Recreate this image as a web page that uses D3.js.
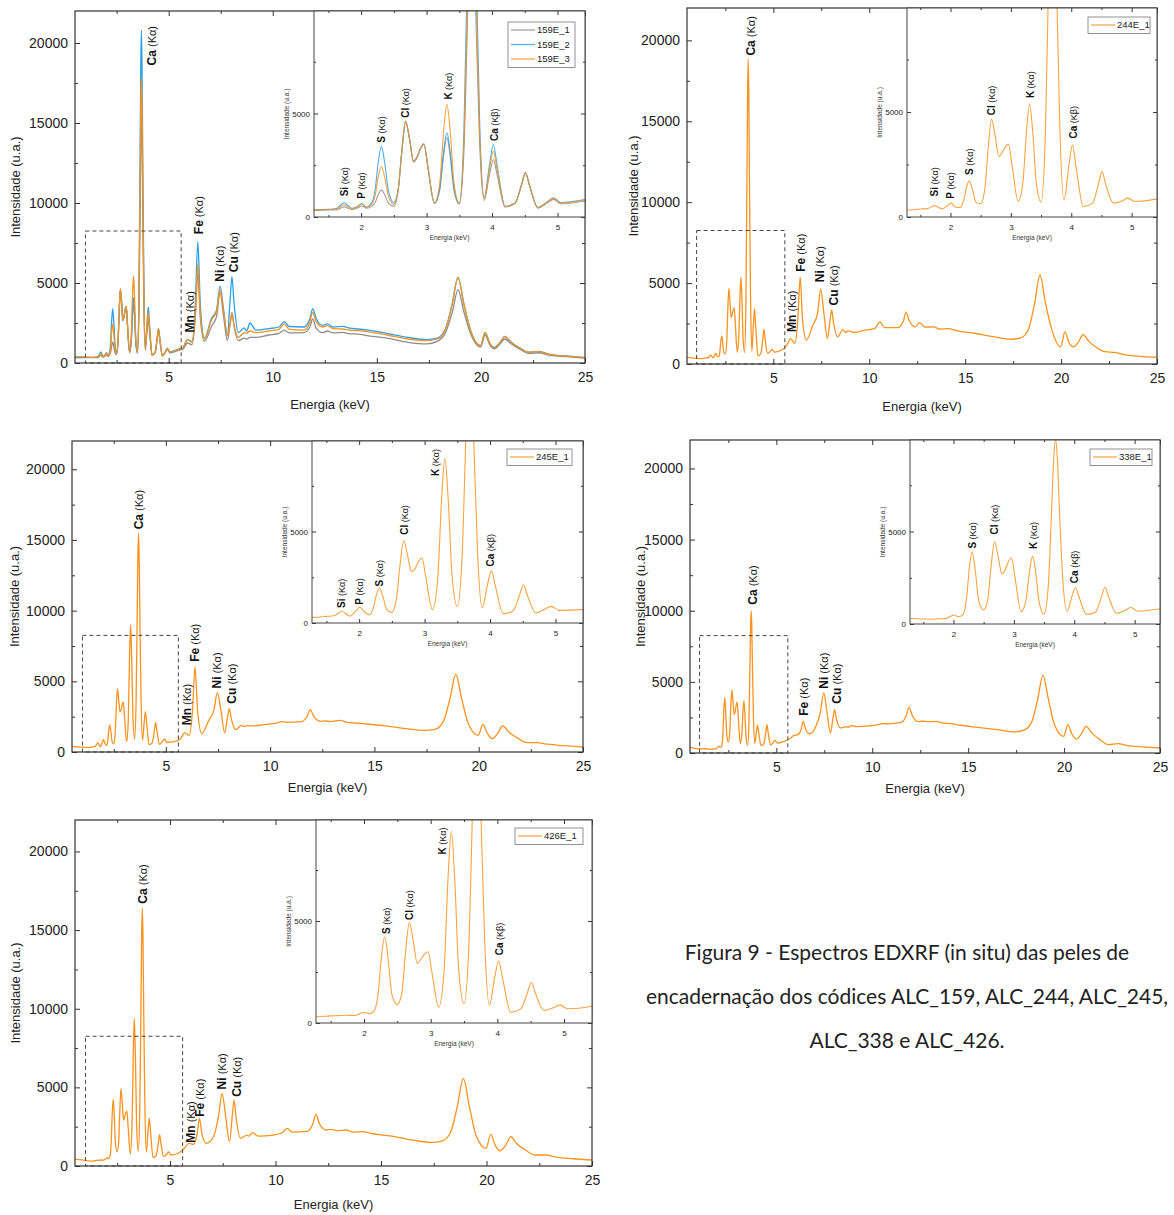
<!DOCTYPE html>
<html>
<head>
<meta charset="utf-8">
<script src="https://cdn.jsdelivr.net/npm/d3@7"></script>
<style>
    body { margin: 0; background: #fff; }
    svg text { font-family: "Liberation Sans", Arial, sans-serif; }
</style>
</head>
<body>
<svg id="fig" width="1174" height="1215"></svg>
<script>
// Energy grid (keV), shared by every spectrum
const energy = [
    0.5, 0.9, 1.3, 1.5, 1.62, 1.74, 1.86, 1.94, 2.01, 2.08,
    2.16, 2.22, 2.26, 2.31, 2.36, 2.42, 2.5, 2.57, 2.62, 2.68,
    2.74, 2.8, 2.86, 2.91, 2.96, 3.02, 3.12, 3.2, 3.26, 3.31,
    3.36, 3.42, 3.5, 3.57, 3.62, 3.66, 3.69, 3.72, 3.76, 3.81,
    3.88, 3.96, 4.02, 4.08, 4.2, 4.35, 4.45, 4.51, 4.57, 4.7,
    4.85, 4.94, 5.05, 5.4, 5.7, 5.9, 6.12, 6.28, 6.4, 6.52,
    6.72, 7.06, 7.3, 7.47, 7.64, 7.82, 7.96, 8.04, 8.13, 8.35,
    8.63, 8.75, 8.9, 9.2, 9.8, 10.3, 10.55, 10.8, 11.5, 11.78,
    11.92, 12.08, 12.4, 12.62, 12.9, 13.35, 13.7, 14.1, 14.6, 15.5,
    16.5, 17.4, 17.9, 18.3, 18.62, 18.9, 19.18, 19.5, 19.98, 20.2,
    20.42, 20.65, 20.9, 21.15, 21.45, 21.85, 22.3, 22.8, 23.3, 24.1,
    25
];

// Intensities (u.a.)
const s159_1 = [
    320, 330, 330, 335, 350, 480, 360, 430, 530, 420,
    500, 730, 1070, 1300, 1070, 660, 520, 1380, 3100, 4600,
    3750, 2650, 2900, 3300, 3500, 2400, 650, 1290, 2980, 3840,
    2950, 1260, 620, 3150, 8800, 13860, 15500, 13860, 8800, 3600,
    800, 2020, 2770, 1980, 480, 645, 1540, 2130, 1540, 430,
    700, 850, 640, 760, 880, 1250, 1150, 2830, 5600, 2830,
    1350, 2300, 2900, 4400, 2900, 1400, 2510, 3170, 2390, 1400,
    1550, 1500, 1600, 1600, 1750, 1850, 2050, 1880, 1900, 2250,
    2750, 2200, 1900, 2000, 1880, 1920, 1820, 1810, 1700, 1550,
    1290, 1190, 1350, 1900, 3150, 4580, 3200, 1850, 1000, 1750,
    1150, 880, 1150, 1500, 1200, 880, 600, 640, 480, 400,
    300
];
const s159_2 = [
    380, 360, 350, 370, 410, 690, 420, 500, 650, 480,
    670, 1460, 2620, 3400, 2620, 1230, 700, 1420, 3120, 4600,
    3750, 2700, 2950, 3350, 3540, 2420, 680, 1360, 3160, 4080,
    3160, 1360, 680, 4100, 11750, 18580, 20800, 18580, 11750, 4700,
    950, 2510, 3500, 2450, 520, 680, 1560, 2150, 1560, 470,
    750, 930, 700, 830, 1000, 1460, 1350, 3630, 7600, 3630,
    1550, 2800, 3300, 4800, 3300, 1750, 4140, 5400, 3900, 1900,
    2200, 2000, 2500, 2050, 2150, 2250, 2580, 2280, 2250, 2750,
    3400, 2800, 2350, 2440, 2250, 2290, 2180, 2125, 2050, 1850,
    1600, 1460, 1550, 2150, 3700, 5350, 3700, 2050, 1080, 1900,
    1250, 960, 1250, 1650, 1300, 950, 680, 720, 540, 440,
    340
];
const s159_3 = [
    420, 380, 350, 360, 390, 580, 400, 490, 630, 470,
    600, 1130, 1910, 2440, 1910, 970, 620, 1420, 3150, 4650,
    3780, 2700, 2950, 3350, 3540, 2420, 680, 1630, 4150, 5440,
    4150, 1630, 680, 3590, 10100, 15920, 17800, 15920, 10100, 4100,
    900, 2300, 3170, 2240, 500, 660, 1540, 2130, 1540, 450,
    730, 900, 680, 800, 980, 1460, 1300, 3080, 6190, 3080,
    1500, 2700, 3200, 4600, 3200, 1700, 2530, 3060, 2450, 1600,
    1900, 1850, 2000, 1900, 2000, 2100, 2440, 2100, 2050, 2550,
    3170, 2600, 2250, 2330, 2150, 2125, 2050, 2020, 1950, 1750,
    1500, 1400, 1500, 2100, 3650, 5350, 3700, 2050, 1080, 1920,
    1250, 980, 1250, 1670, 1300, 950, 670, 710, 530, 430,
    350
];
const s244_1 = [
    410, 360, 330, 380, 400, 540, 390, 520, 660, 480,
    450, 815, 1355, 1720, 1355, 710, 630, 1360, 3120, 4650,
    3850, 2870, 3100, 3350, 3470, 2450, 740, 1670, 4130, 5380,
    4130, 1670, 710, 3790, 10690, 16850, 18850, 16850, 10690, 4340,
    800, 2420, 3420, 2360, 500, 650, 1560, 2160, 1560, 660,
    780, 900, 740, 850, 1150, 1570, 1270, 2790, 5360, 2790,
    1470, 2390, 3100, 4640, 3100, 1570, 2740, 3350, 2620, 1680,
    2130, 1950, 2050, 1950, 2090, 2200, 2600, 2250, 2250, 2650,
    3210, 2700, 2290, 2560, 2280, 2290, 2150, 2190, 2050, 1900,
    1680, 1530, 1620, 2150, 3750, 5500, 3800, 2190, 1060, 1980,
    1300, 1060, 1350, 1820, 1400, 1020, 760, 720, 580, 470,
    410
];
const s245_1 = [
    400, 340, 310, 360, 400, 640, 370, 620, 870, 600,
    450, 870, 1490, 1910, 1490, 750, 580, 1320, 3010, 4490,
    3700, 2820, 3000, 3380, 3550, 2480, 730, 2380, 6770, 9000,
    6810, 2560, 910, 3380, 8910, 13860, 15470, 13860, 8910, 3820,
    830, 2080, 2850, 2040, 510, 660, 1520, 2090, 1520, 545,
    780, 910, 690, 730, 930, 1370, 1180, 2970, 6020, 2970,
    1300, 2240, 2950, 4200, 2950, 1350, 2500, 3070, 2400, 1580,
    1890, 1800, 1850, 1850, 1950, 2050, 2150, 2100, 2150, 2550,
    3000, 2550, 2170, 2200, 2150, 2240, 2100, 2050, 1980, 1850,
    1650, 1530, 1600, 2150, 3750, 5500, 3800, 2000, 1180, 1960,
    1300, 940, 1300, 1840, 1400, 1000, 660, 660, 550, 450,
    350
];
const s338_1 = [
    420, 290, 300, 270, 260, 280, 290, 400, 490, 390,
    525, 1490, 2930, 3900, 2930, 1210, 760, 1390, 3020, 4440,
    3650, 2720, 2950, 3380, 3570, 2480, 670, 1270, 2850, 3660,
    2840, 1160, 540, 2050, 5740, 8960, 10000, 8960, 5740, 2430,
    680, 1480, 1960, 1450, 525, 640, 1465, 1990, 1465, 580,
    760, 890, 690, 815, 1000, 1220, 1290, 1600, 2220, 1700,
    1350, 1870, 2900, 4220, 2900, 1400, 2520, 3040, 2400, 1760,
    1850, 1800, 1920, 1850, 1900, 2000, 2060, 2050, 2150, 2650,
    3230, 2650, 2200, 2250, 2200, 2220, 2100, 2060, 1950, 1800,
    1640, 1480, 1600, 2150, 3750, 5480, 3800, 1990, 1170, 1990,
    1300, 980, 1350, 1870, 1400, 960, 590, 660, 520, 430,
    350
];
const s426_1 = [
    420, 380, 310, 350, 360, 380, 370, 460, 530, 450,
    640, 1670, 3200, 4230, 3200, 1365, 900, 1530, 3350, 4920,
    4000, 2910, 3160, 3380, 3490, 2460, 770, 2500, 7070, 9400,
    7110, 2630, 940, 3570, 9440, 14690, 16400, 14690, 9440, 4030,
    880, 2220, 3040, 2180, 530, 680, 1470, 2000, 1470, 610,
    760, 890, 700, 810, 1150, 1440, 1380, 1990, 3030, 1990,
    1440, 1860, 3150, 4610, 3150, 1550, 3280, 4190, 3100, 1760,
    1950, 1900, 2120, 1900, 1950, 2100, 2390, 2150, 2200, 2700,
    3280, 2700, 2290, 2330, 2250, 2290, 2150, 2180, 2050, 1900,
    1650, 1500, 1600, 2150, 3800, 5570, 3850, 1970, 1120, 2010,
    1300, 970, 1300, 1860, 1400, 1020, 700, 700, 560, 460,
    380
];

// Peak annotations: [element, line, keV, intensity at foot of text]
const labels159Main = [["Ca", "Kα", 4.19, 18600], ["Mn", "Kα", 5.99, 1900], ["Fe", "Kα", 6.43, 8050], ["Ni", "Kα", 7.44, 5080], ["Cu", "Kα", 8.11, 5670]];
const labels159Inset = [["Si", "Kα", 1.74, 1000], ["P", "Kα", 2.0, 880], ["S", "Kα", 2.31, 3590], ["Cl", "Kα", 2.68, 4790], ["K", "Kα", 3.33, 5670], ["Ca", "Kβ", 4.03, 3670]];
const labels244Main = [["Ca", "Kα", 3.8, 19060], ["Mn", "Kα", 5.98, 1980], ["Fe", "Kα", 6.44, 5700], ["Ni", "Kα", 7.4, 5050], ["Cu", "Kα", 8.13, 3620]];
const labels244Inset = [["Si", "Kα", 1.73, 980], ["P", "Kα", 2.0, 870], ["S", "Kα", 2.31, 2000], ["Cl", "Kα", 2.67, 4840], ["K", "Kα", 3.32, 5660], ["Ca", "Kβ", 4.03, 3740]];
const labels245Main = [["Ca", "Kα", 3.71, 15750], ["Mn", "Kα", 5.98, 1890], ["Fe", "Kα", 6.39, 6380], ["Ni", "Kα", 7.45, 4490], ["Cu", "Kα", 8.15, 3420]];
const labels245Inset = [["Si", "Kα", 1.73, 820], ["P", "Kα", 2.0, 1000], ["S", "Kα", 2.31, 2000], ["Cl", "Kα", 2.69, 4820], ["K", "Kα", 3.17, 8040], ["Ca", "Kβ", 4.0, 3090]];
const labels338Main = [["Ca", "Kα", 3.76, 10420], ["Fe", "Kα", 6.43, 2620], ["Ni", "Kα", 7.46, 4520], ["Cu", "Kα", 8.15, 3470]];
const labels338Inset = [["S", "Kα", 2.32, 4080], ["Cl", "Kα", 2.68, 4840], ["K", "Kα", 3.32, 4060], ["Ca", "Kβ", 4.0, 2210]];
const labels426Main = [["Ca", "Kα", 3.73, 16680], ["Mn", "Kα", 5.98, 1480], ["Fe", "Kα", 6.43, 3130], ["Ni", "Kα", 7.45, 4870], ["Cu", "Kα", 8.16, 4400]];
const labels426Inset = [["S", "Kα", 2.33, 4360], ["Cl", "Kα", 2.68, 5050], ["K", "Kα", 3.18, 8260], ["Ca", "Kβ", 4.03, 3320]];

// Zoom window drawn as a dashed box in each main plot
const zoomBox = { e0: 1.0, e1: 5.6, i1: 8250 };

const caption = [
    "Figura 9 - Espectros EDXRF (in situ) das peles de",
    "encadernação dos códices ALC_159, ALC_244, ALC_245,",
    "ALC_338 e ALC_426."
];

const grey = "#8c8c8c", blue = "#2d9fe6", orange = "#f7931e";

// Panel layout
const panels = [
    { series: [[s159_1, grey, "159E_1"], [s159_2, blue, "159E_2"], [s159_3, orange, "159E_3"]],
      main: { l: 75, r: 585, t: 11, b: 363 }, inset: { l: 314, b: 217 }, yTitleX: 15, xTitleY: 409,
      legend: { l: 508, t: 22, w: 67 }, mainLabels: labels159Main, insetLabels: labels159Inset },
    { series: [[s244_1, orange, "244E_1"]],
      main: { l: 687, r: 1157, t: 8, b: 364 }, inset: { l: 907, b: 217 }, yTitleX: 633, xTitleY: 411,
      legend: { l: 1088, t: 17, w: 62 }, mainLabels: labels244Main, insetLabels: labels244Inset },
    { series: [[s245_1, orange, "245E_1"]],
      main: { l: 72, r: 583, t: 441, b: 752 }, inset: { l: 312, b: 623 }, yTitleX: 14, xTitleY: 792,
      legend: { l: 507, t: 449, w: 65 }, mainLabels: labels245Main, insetLabels: labels245Inset },
    { series: [[s338_1, orange, "338E_1"]],
      main: { l: 690, r: 1160, t: 440, b: 753 }, inset: { l: 910, b: 624 }, yTitleX: 640, xTitleY: 793,
      legend: { l: 1090, t: 449, w: 62 }, mainLabels: labels338Main, insetLabels: labels338Inset },
    { series: [[s426_1, orange, "426E_1"]],
      main: { l: 75, r: 592, t: 820, b: 1166 }, inset: { l: 316, b: 1023 }, yTitleX: 15, xTitleY: 1209,
      legend: { l: 515, t: 828, w: 68 }, mainLabels: labels426Main, insetLabels: labels426Inset }
];

const svg = d3.select("#fig");

const points = s => energy.map((e, k) => [e, s[k]]);

function lineGen(x, y) {
    return d3.line().x(d => x(d[0])).y(d => y(d[1])).curve(d3.curveMonotoneX);
}

// Frame with inward ticks on all four sides
function drawAxes(g, x, y, box, o) {
    const tickStyle = sel => {
        sel.select(".domain").remove();
        sel.selectAll(".tick line").attr("stroke", "#333");
        sel.selectAll(".tick text").style("font-size", o.font + "px").style("fill", "#222")
            .style("font-family", "'Liberation Sans', Arial, sans-serif");
    };
    const put = (axis, tx, ty) => g.append("g").attr("transform", `translate(${tx},${ty})`).call(axis).call(tickStyle);

    put(d3.axisBottom(x).tickValues(o.xMajor).tickSize(-o.major).tickPadding(o.padX).tickFormat(o.xFmt), 0, box.b);
    put(d3.axisBottom(x).tickValues(o.xMinor).tickSize(-o.minor).tickFormat(""), 0, box.b);
    put(d3.axisTop(x).tickValues(o.xMajor).tickSize(-o.major).tickFormat(""), 0, box.t);
    put(d3.axisTop(x).tickValues(o.xMinor).tickSize(-o.minor).tickFormat(""), 0, box.t);
    put(d3.axisLeft(y).tickValues(o.yMajor).tickSize(-o.major).tickPadding(o.padY).tickFormat(d3.format("d")), box.l, 0);
    put(d3.axisLeft(y).tickValues(o.yMinor).tickSize(-o.minor).tickFormat(""), box.l, 0);
    put(d3.axisRight(y).tickValues(o.yMajor).tickSize(-o.major).tickFormat(""), box.r, 0);
    put(d3.axisRight(y).tickValues(o.yMinor).tickSize(-o.minor).tickFormat(""), box.r, 0);

    g.append("rect")
        .attr("x", box.l).attr("y", box.t)
        .attr("width", box.r - box.l).attr("height", box.b - box.t)
        .attr("fill", "none").attr("stroke", o.frame).attr("stroke-width", o.frameW);
}

function peakLabel(g, x, y, d, size) {
    const t = g.append("text")
        .attr("transform", `translate(${x(d[2])},${y(d[3])}) rotate(-90)`)
        .attr("dy", "0.36em")
        .style("font-size", size + "px")
        .style("fill", "#111");
    t.append("tspan").style("font-weight", "bold").text(d[0]);
    t.append("tspan").style("font-size", (size - 1) + "px").text(" (" + d[1] + ")");
}

function drawPanel(p, idx) {
    const g = svg.append("g");
    const m = p.main;

    // Main spectrum
    const x = d3.scaleLinear().domain([0.5, 25]).range([m.l, m.r]);
    const y = d3.scaleLinear().domain([0, 22000]).range([m.b, m.t]);

    g.append("clipPath").attr("id", `clipMain${idx}`)
        .append("rect").attr("x", m.l).attr("y", m.t).attr("width", m.r - m.l).attr("height", m.b - m.t);

    const lines = g.append("g").attr("clip-path", `url(#clipMain${idx})`);
    p.series.forEach(s => {
        lines.append("path")
            .datum(points(s[0]))
            .attr("fill", "none")
            .attr("stroke", s[1])
            .attr("stroke-width", 1.3)
            .attr("d", lineGen(x, y));
    });

    // Dashed box around the zoomed region
    g.append("rect")
        .attr("x", x(zoomBox.e0)).attr("y", y(zoomBox.i1))
        .attr("width", x(zoomBox.e1) - x(zoomBox.e0))
        .attr("height", y(0) - y(zoomBox.i1))
        .attr("fill", "none").attr("stroke", "#444").attr("stroke-width", 1)
        .attr("stroke-dasharray", "4,3");

    drawAxes(g, x, y, m, {
        xMajor: [5, 10, 15, 20, 25], xMinor: [2.5, 7.5, 12.5, 17.5, 22.5],
        yMajor: [0, 5000, 10000, 15000, 20000], yMinor: [2500, 7500, 12500, 17500],
        major: 5, minor: 3, padX: 9, padY: 7, font: 14, xFmt: d3.format("d"),
        frame: "#333", frameW: 1.2
    });

    g.append("text")
        .attr("transform", `translate(${p.yTitleX},${(m.t + m.b) / 2}) rotate(-90)`)
        .attr("dy", "0.35em")
        .style("text-anchor", "middle").style("font-size", "13px").style("fill", "#222")
        .text("Intensidade (u.a.)");

    g.append("text")
        .attr("x", (m.l + m.r) / 2).attr("y", p.xTitleY)
        .style("text-anchor", "middle").style("font-size", "13px").style("fill", "#222")
        .text("Energia (keV)");

    p.mainLabels.forEach(d => peakLabel(g, x, y, d, 12));

    // Inset zoom 1.3 - 5.4 keV
    const ib = { l: p.inset.l, r: m.r, t: m.t, b: p.inset.b };
    const xi = d3.scaleLinear().domain([1.28, 5.42]).range([ib.l, ib.r]);
    const yi = d3.scaleLinear().domain([0, 9950]).range([ib.b, ib.t]);

    g.append("rect")
        .attr("x", ib.l).attr("y", ib.t).attr("width", ib.r - ib.l).attr("height", ib.b - ib.t)
        .attr("fill", "#fff");

    g.append("clipPath").attr("id", `clipInset${idx}`)
        .append("rect").attr("x", ib.l).attr("y", ib.t).attr("width", ib.r - ib.l).attr("height", ib.b - ib.t);

    const ilines = g.append("g").attr("clip-path", `url(#clipInset${idx})`);
    p.series.forEach(s => {
        ilines.append("path")
            .datum(points(s[0]))
            .attr("fill", "none")
            .attr("stroke", s[1])
            .attr("stroke-width", 1.1)
            .attr("opacity", 0.85)
            .attr("d", lineGen(xi, yi));
    });

    drawAxes(g, xi, yi, ib, {
        xMajor: [2, 3, 4, 5], xMinor: [1.5, 2.5, 3.5, 4.5],
        yMajor: [0, 5000], yMinor: [2500, 7500],
        major: 4, minor: 2, padX: 7, padY: 4, font: 8, xFmt: d3.format("d"),
        frame: "#444", frameW: 1
    });

    g.append("text")
        .attr("transform", `translate(${ib.l - 27},${(ib.t + ib.b) / 2}) rotate(-90)`)
        .attr("dy", "0.35em")
        .style("text-anchor", "middle").style("font-size", "6.5px").style("fill", "#333")
        .text("Intensidade (u.a.)");

    g.append("text")
        .attr("x", (ib.l + ib.r) / 2).attr("y", ib.b + 23)
        .style("text-anchor", "middle").style("font-size", "6.5px").style("fill", "#333")
        .text("Energia (keV)");

    p.insetLabels.forEach(d => peakLabel(g, xi, yi, d, 10));

    // Legend
    const lg = p.legend;
    const rowH = 14.5;
    g.append("rect")
        .attr("x", lg.l).attr("y", lg.t)
        .attr("width", lg.w).attr("height", 2 + p.series.length * rowH)
        .attr("fill", "#fff").attr("stroke", "#777").attr("stroke-width", 0.8);
    p.series.forEach((s, k) => {
        const yy = lg.t + 8 + k * rowH;
        g.append("line")
            .attr("x1", lg.l + 3).attr("x2", lg.l + 27)
            .attr("y1", yy).attr("y2", yy)
            .attr("stroke", s[1]).attr("stroke-width", 1.3).attr("opacity", 0.8);
        g.append("text")
            .attr("x", lg.l + 29).attr("y", yy).attr("dy", "0.35em")
            .style("font-size", "9.5px").style("fill", "#222")
            .text(s[2]);
    });
}

panels.forEach(drawPanel);

// Figure caption
svg.append("g").selectAll("text")
    .data(caption)
    .enter()
    .append("text")
    .attr("x", 907)
    .attr("y", (d, i) => 960 + i * 44)
    .style("text-anchor", "middle")
    .style("font-family", "Lato, 'Open Sans', sans-serif")
    .style("font-size", "21px")
    .style("fill", "#222")
    .text(d => d);
</script>
</body>
</html>
